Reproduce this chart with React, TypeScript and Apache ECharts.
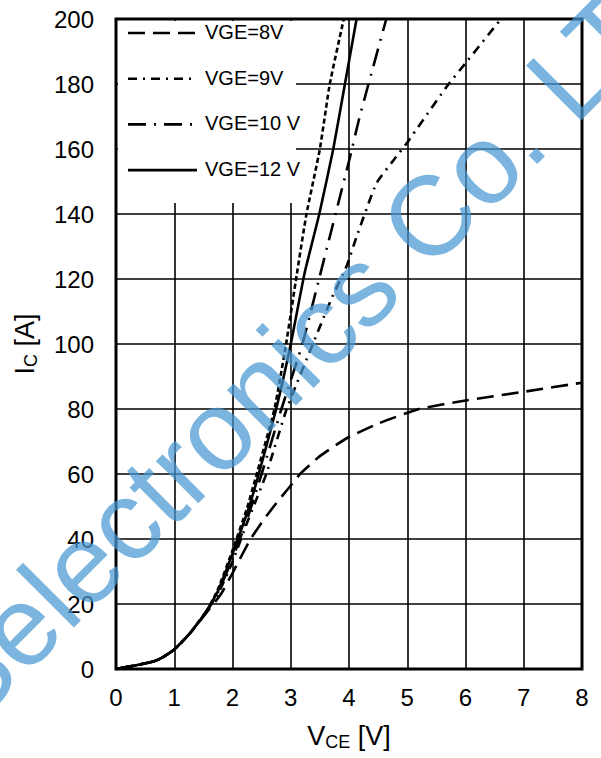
import React, { useEffect, useRef } from "react";
import * as echarts from "echarts";

// VCE [V] / IC [A]
const vge8V = [0, 0.3, 0.64, 0.8, 1.0, 1.27, 1.56, 1.8, 2.0, 2.3, 2.53, 2.75, 2.98, 3.16, 3.5, 3.96, 4.5, 5.2, 6.0, 7.0, 8.0];
const vge8I = [0, 1, 2.3, 3.6, 6, 11, 17.5, 23, 29.5, 39.7, 45.8, 51, 56, 60, 65.5, 71, 75.5, 80, 82.6, 85.3, 88.1];

const vge9V = [0, 0.3, 0.64, 0.8, 1.0, 1.27, 1.56, 1.75, 2.0, 2.25, 2.58, 2.93, 3.38, 3.7, 3.96, 4.13, 4.47, 4.81, 5.0, 5.67, 6.0, 6.61];
const vge9I = [0, 1, 2.3, 3.6, 6, 11, 18, 23, 33, 45, 60, 80, 100, 114, 124, 133, 149.4, 157.6, 162, 179, 186.4, 200];

const vge10V = [0, 0.3, 0.64, 0.8, 1.0, 1.27, 1.56, 1.75, 2.0, 2.25, 2.5, 2.84, 3.2, 3.5, 3.67, 3.84, 4.01, 4.17, 4.35, 4.64];
const vge10I = [0, 1, 2.3, 3.6, 6, 11, 18, 23.5, 34, 46, 60, 80, 100, 121, 133, 145, 157, 169, 181, 200];

const vge12V = [0, 0.3, 0.64, 0.8, 1.0, 1.27, 1.56, 1.75, 2.0, 2.25, 2.42, 2.75, 3.0, 3.24, 3.49, 3.73, 3.93, 4.13];
const vge12I = [0, 1, 2.3, 3.6, 6, 11, 18, 24, 35.5, 48, 58, 80, 100, 122, 140, 160, 180, 200];

const vge15V = [0, 0.3, 0.64, 0.8, 1.0, 1.27, 1.56, 1.75, 2.0, 2.25, 2.4, 2.72, 2.92, 3.1, 3.27, 3.5, 3.67, 3.91];
const vge15I = [0, 1, 2.3, 3.6, 6, 11, 18, 24.5, 36.5, 49.5, 59, 80, 100, 121, 140, 160, 180, 200];

const legendNames = ["VGE=8V", "VGE=9V", "VGE=10 V", "VGE=12 V"];
const hiddenName = "VGE=15V";
const watermark = "Selectronics Co. LTD";

const FONT = "'Liberation Sans', Arial, sans-serif";

// line dash styles per curve
const dash8 = [17, 8];
const dash9 = [9, 6, 2, 6];
const dash10 = [18, 8, 2, 8];
const dash15 = [5, 3];

function zip(v: number[], i: number[]) {
  return v.map((x, k) => [x, i[k]]);
}

export default function App() {
  const ref = useRef<HTMLDivElement>(null);
  useEffect(() => {
    const chart = echarts.init(ref.current!, null, { renderer: "svg" });
    const line = (name: string, v: number[], i: number[], type: any) => ({
      name,
      type: "line",
      data: zip(v, i),
      symbol: "none",
      showSymbol: false,
      smooth: 0.15,
      z: 2,
      lineStyle: { color: "#000", width: 2.6, type },
      itemStyle: { color: "#000" },
    });
    const legendDashes: (number[] | null)[] = [dash8, dash9, dash10, null];
    const legendItems: any[] = [];
    legendNames.forEach((n, k) => {
      const cy = 33 + k * 45.7;
      legendItems.push({
        type: "line",
        z: 10,
        shape: { x1: 128, y1: cy, x2: 197, y2: cy },
        style: { stroke: "#000", lineWidth: 2.6, lineDash: legendDashes[k] || undefined },
      });
      legendItems.push({
        type: "text",
        z: 10,
        x: 205,
        y: cy - 1,
        style: {
          text: n,
          font: `20px ${FONT}`,
          fill: "#000",
          textAlign: "left",
          verticalAlign: "middle",
          textVerticalAlign: "middle",
        },
      });
    });
    const richName = {
      a: { fontSize: 27, fontFamily: FONT, color: "#000", lineHeight: 30, verticalAlign: "middle" },
      b: { fontSize: 18, fontFamily: FONT, color: "#000", lineHeight: 14, verticalAlign: "bottom" },
    };
    chart.setOption({
      animation: false,
      backgroundColor: "#fff",
      textStyle: { fontFamily: FONT },
      grid: {
        left: 116,
        top: 19,
        width: 466,
        height: 650,
        show: true,
        borderColor: "#000",
        borderWidth: 3,
        backgroundColor: "transparent",
      },
      xAxis: {
        type: "value",
        min: 0,
        max: 8,
        interval: 1,
        name: "{a|V}{b|CE}{a| [V]}",
        nameLocation: "middle",
        nameGap: 52,
        nameTextStyle: { rich: richName },
        axisLine: { show: false },
        axisTick: { show: false },
        axisLabel: { color: "#000", fontSize: 24, fontFamily: FONT, margin: 16 },
        splitLine: { show: true, lineStyle: { color: "#000", width: 1.6 } },
      },
      yAxis: {
        type: "value",
        min: 0,
        max: 200,
        interval: 20,
        name: "{a|I}{b|C}{a| [A]}",
        nameLocation: "middle",
        nameRotate: 90,
        nameGap: 76,
        nameTextStyle: { rich: richName },
        axisLine: { show: false },
        axisTick: { show: false },
        axisLabel: { color: "#000", fontSize: 24, fontFamily: FONT, margin: 22 },
        splitLine: { show: true, lineStyle: { color: "#000", width: 1.6 } },
      },
      graphic: [
        {
          type: "rect",
          z: 3,
          shape: { x: 118, y: 21, width: 178, height: 182 },
          style: { fill: "#fff" },
        },
        ...legendItems,
        {
          type: "group",
          x: -30,
          y: 730,
          rotation: Math.PI / 4,
          z: 100,
          children: [
            {
              type: "text",
              x: 0,
              y: -38,
              z: 100,
              style: {
                text: watermark,
                font: `113px ${FONT}`,
                fill: "rgba(72,152,210,0.72)",
                textAlign: "left",
                verticalAlign: "middle",
                textVerticalAlign: "middle",
              },
            },
          ],
        },
      ],
      series: [
        line(legendNames[0], vge8V, vge8I, dash8),
        line(legendNames[1], vge9V, vge9I, dash9),
        line(legendNames[2], vge10V, vge10I, dash10),
        line(legendNames[3], vge12V, vge12I, "solid"),
        line(hiddenName, vge15V, vge15I, dash15),
      ],
    });
    return () => chart.dispose();
  }, []);
  return (
    <div
      ref={ref}
      style={{ position: "fixed", left: 0, top: 0, width: 601, height: 758, background: "#fff" }}
    />
  );
}
